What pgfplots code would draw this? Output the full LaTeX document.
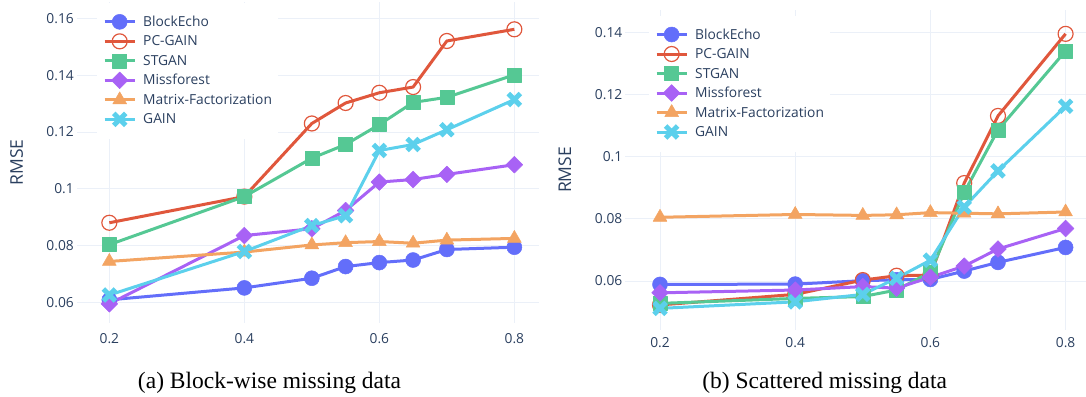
\documentclass[border=0pt]{standalone}
\usepackage{pgfplots}
\usepackage{pgfplotstable}
\pgfplotsset{compat=1.18}
\usepackage{fontspec}
\setmainfont{Open Sans}
\newfontfamily\seriffont{Liberation Serif}

\definecolor{gridc}{HTML}{EBF0F8}
\definecolor{textc}{HTML}{2A3F5F}
\definecolor{cBE}{HTML}{636EFA}
\definecolor{cPC}{HTML}{E0573C}
\definecolor{cST}{HTML}{55C894}
\definecolor{cMF}{HTML}{A862F5}
\definecolor{cMA}{HTML}{F3A462}
\definecolor{cGA}{HTML}{5CD0EC}

\pgfdeclareplotmark{px}{%
  \pgfsetlinewidth{5bp}\pgfsetbuttcap
  \pgfpathmoveto{\pgfpoint{-\pgfplotmarksize}{-\pgfplotmarksize}}%
  \pgfpathlineto{\pgfpoint{\pgfplotmarksize}{\pgfplotmarksize}}%
  \pgfpathmoveto{\pgfpoint{-\pgfplotmarksize}{\pgfplotmarksize}}%
  \pgfpathlineto{\pgfpoint{\pgfplotmarksize}{-\pgfplotmarksize}}%
  \pgfusepathqstroke}

\pgfplotstableread{
x    be     pc     st     mf     ma     ga
0.2  0.0610 0.0881 0.0804 0.0596 0.0745 0.0627
0.4  0.0652 0.0973 0.0973 0.0836 0.0778 0.0780
0.5  0.0686 0.1230 0.1108 0.0860 0.0803 0.0871
0.55 0.0727 0.1302 0.1156 0.0924 0.0811 0.0906
0.6  0.0741 0.1338 0.1226 0.1024 0.0815 0.1135
0.65 0.0750 0.1358 0.1304 0.1033 0.0809 0.1156
0.7  0.0787 0.1520 0.1322 0.1051 0.0820 0.1208
0.8  0.0795 0.1561 0.1401 0.1085 0.0826 0.1314
}\blockdata

\pgfplotstableread{
x    be     pc     st     mf     ma     ga
0.2  0.0589 0.0523 0.0528 0.0562 0.0805 0.0512
0.4  0.0590 0.0557 0.0544 0.0571 0.0814 0.0533
0.5  0.0601 0.0603 0.0550 0.0582 0.0811 0.0557
0.55 0.0604 0.0617 0.0571 0.0577 0.0813 0.0609
0.6  0.0605 0.0619 0.0628 0.0612 0.0820 0.0667
0.65 0.0632 0.0915 0.0885 0.0648 0.0818 0.0838
0.7  0.0660 0.1131 0.1086 0.0703 0.0816 0.0954
0.8  0.0708 0.1395 0.1340 0.0769 0.0822 0.1162
}\scatdata

\newcommand\tickfont{\fontsize{13.8bp}{16bp}\selectfont}
\newcommand\titlefont{\fontsize{17.5bp}{20bp}\selectfont}
\newcommand\capfont{\seriffont\fontsize{23.5bp}{27bp}\selectfont}

\pgfplotsset{
  myaxis/.style={
    scale only axis, clip=false,
    axis line style={draw=none},
    major tick length=0pt,
    tick style={draw=none},
    grid=major,
    major grid style={color=gridc, line width=1bp},
    xtick={0.2,0.4,0.6,0.8},
    xticklabels={0.2,0.4,0.6,0.8},
    yticklabel style={anchor=east, inner sep=0pt, font=\tickfont, text=textc},
    xticklabel style={anchor=base, inner sep=0pt, font=\tickfont, text=textc},
    ylabel={RMSE},
    every axis y label/.style={at={(axis description cs:-0.1305,0.5)}, rotate=90, anchor=center, font=\titlefont, text=textc},
    legend cell align=left,
    legend image code/.code={\draw[mark repeat=2, mark phase=2, ##1] plot coordinates {(0bp,4.5bp) (15bp,4.5bp) (30bp,4.5bp)};},
    legend style={draw=none, fill=white, inner xsep=6bp, inner ysep=9.5bp,
      column sep=7bp, row sep=0pt, font=\tickfont, text=textc,
      nodes={inner sep=0pt, text height=14bp, text depth=5.5bp, anchor=base west}},
    every axis plot/.append style={line width=3bp, line join=round},
  },
  sBE/.style={color=cBE, mark=*, mark size=7.5bp, mark options={solid, line width=0.5bp}},
  sPC/.style={color=cPC, mark=o, mark size=7.5bp, mark options={solid, line width=1.2bp, fill=none}},
  sST/.style={color=cST, mark=square*, mark size=7bp, mark options={solid, line width=0.5bp}},
  sMF/.style={color=cMF, mark=square*, mark size=5.9bp, mark options={solid, rotate=45, line width=0.5bp}},
  sMA/.style={color=cMA, mark=triangle*, mark size=8bp, mark options={solid, line width=0.5bp}},
  sGA/.style={color=cGA, mark=px, mark size=6bp, mark options={solid}},
}

\begin{document}
\begin{tikzpicture}
\useasboundingbox (0bp,0bp) rectangle (1086bp,-397bp);

\begin{axis}[myaxis,
  at={(77bp,-323bp)}, anchor=south west,
  width=462bp, height=321bp,
  xmin=0.1521, xmax=0.8365, ymin=0.05286, ymax=0.1657,
  ytick={0.06,0.08,0.1,0.12,0.14,0.16},
  yticklabels={0.06,0.08,0.1,0.12,0.14,0.16},
  yticklabel style={xshift=-3bp},
  xticklabel style={yshift=-20bp},
  legend style={at={(axis description cs:0.0433,0.998)}, anchor=north west},
]
\addplot[sBE] table[x=x,y=be] {\blockdata};
\addlegendentry{BlockEcho}
\addplot[sPC] table[x=x,y=pc] {\blockdata};
\addlegendentry{PC-GAIN}
\addplot[sST] table[x=x,y=st] {\blockdata};
\addlegendentry{STGAN}
\addplot[sMF] table[x=x,y=mf] {\blockdata};
\addlegendentry{Missforest}
\addplot[sMA] table[x=x,y=ma] {\blockdata};
\addlegendentry{Matrix-Factorization}
\addplot[sGA] table[x=x,y=ga] {\blockdata};
\addlegendentry{GAIN}
\end{axis}

\begin{axis}[myaxis,
  at={(625bp,-330bp)}, anchor=south west,
  width=461bp, height=320bp,
  xmin=0.1482, xmax=0.8302, ymin=0.04424, ymax=0.14717,
  ytick={0.06,0.08,0.1,0.12,0.14},
  yticklabels={0.06,0.08,0.1,0.12,0.14},
  yticklabel style={xshift=-2.5bp},
  xticklabel style={yshift=-17.5bp},
  legend style={at={(axis description cs:0.052,0.9834)}, anchor=north west},
]
\addplot[sBE] table[x=x,y=be] {\scatdata};
\addlegendentry{BlockEcho}
\addplot[sPC] table[x=x,y=pc] {\scatdata};
\addlegendentry{PC-GAIN}
\addplot[sST] table[x=x,y=st] {\scatdata};
\addlegendentry{STGAN}
\addplot[sMF] table[x=x,y=mf] {\scatdata};
\addlegendentry{Missforest}
\addplot[sMA] table[x=x,y=ma] {\scatdata};
\addlegendentry{Matrix-Factorization}
\addplot[sGA] table[x=x,y=ga] {\scatdata};
\addlegendentry{GAIN}
\end{axis}

\node[font=\capfont, anchor=base, inner sep=0pt] at (269.5bp,-388bp) {(a) Block-wise missing data};
\node[font=\capfont, anchor=base, inner sep=0pt] at (824.7bp,-388bp) {(b) Scattered missing data};
\end{tikzpicture}
\end{document}
